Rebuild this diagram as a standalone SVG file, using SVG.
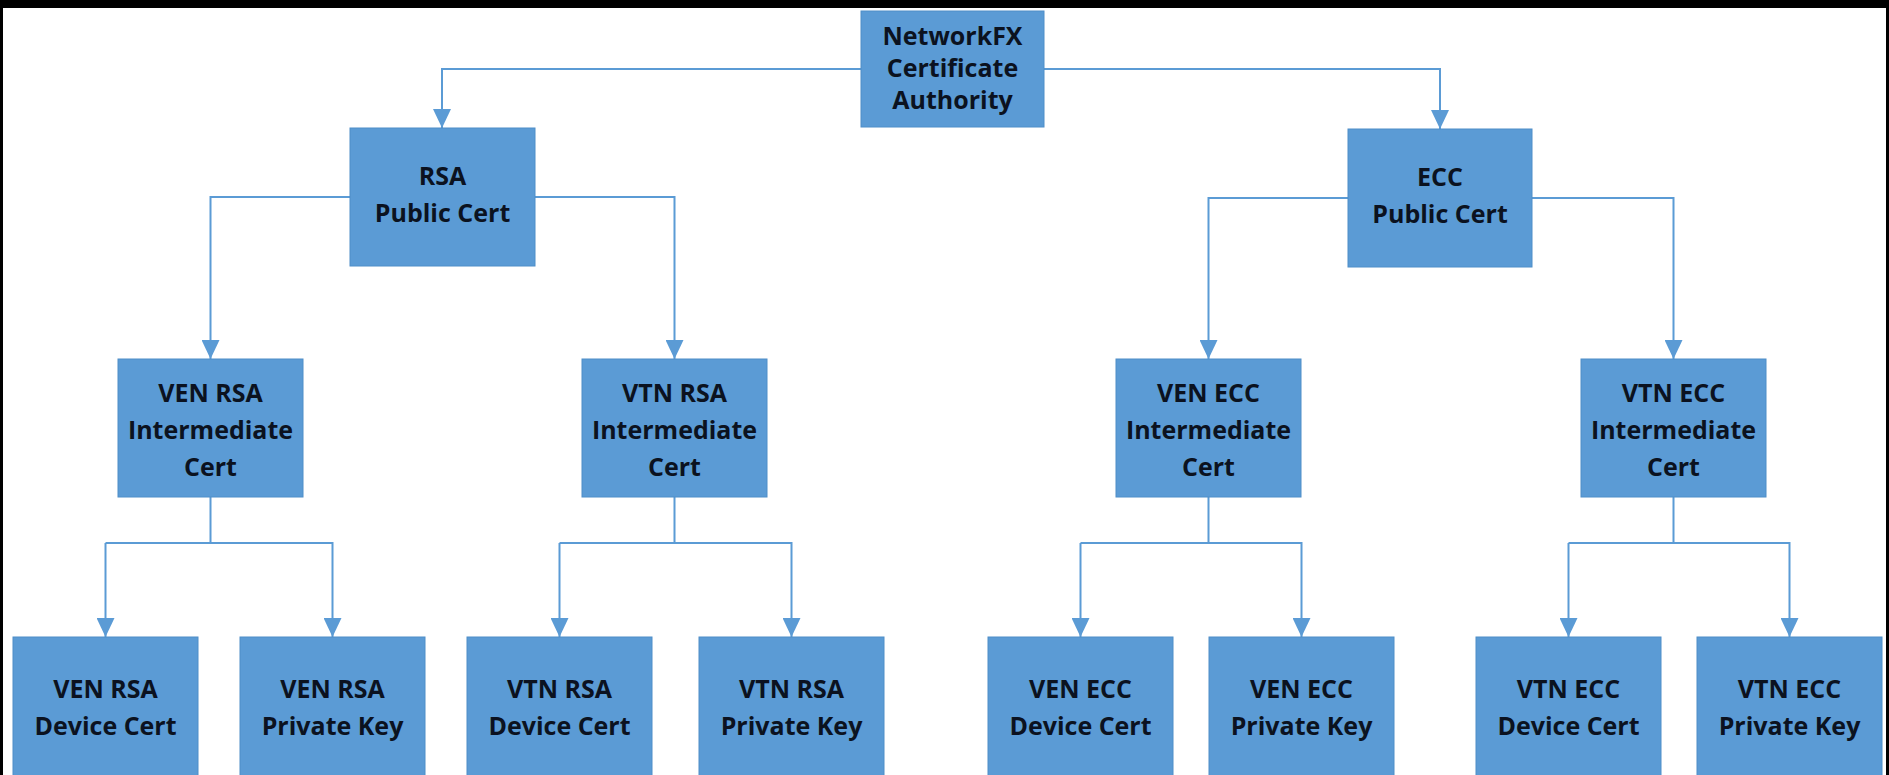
<svg xmlns="http://www.w3.org/2000/svg" width="1889" height="775" viewBox="0 0 1889 775">
<style>
  .box { fill: #5b9bd5; stroke: #4f8ec8; stroke-width: 1; }
  .lbl { font-family: "Open Sans", "Noto Sans", "Liberation Sans", sans-serif; font-weight: 700; font-size: 25px; fill: #0b1220; text-anchor: middle; }
  .conn { fill: none; stroke: #5b9bd5; stroke-width: 2; }
  .arrow { marker-end: url(#arrd); }
</style>
<defs>
  <marker id="arrd" markerUnits="userSpaceOnUse" markerWidth="18" markerHeight="19" viewBox="0 0 18 19" refX="9" refY="19" orient="0">
    <path d="M0,0 L18,0 L9,19 Z" fill="#5b9bd5"/>
  </marker>
</defs>
<rect x="0" y="0" width="1889" height="775" fill="#ffffff"/>
<rect x="0" y="0" width="1889" height="8" fill="#000"/>
<rect x="0" y="0" width="3" height="775" fill="#000"/>
<rect x="1886" y="0" width="3" height="775" fill="#000"/>

<g id="connectors">
  <path class="conn arrow" d="M861,69 H442 V128"/>
  <path class="conn arrow" d="M1044,69 H1440 V129"/>
  <path class="conn arrow" d="M350,197 H210.5 V359"/>
  <path class="conn arrow" d="M535,197 H674.5 V359"/>
  <path class="conn arrow" d="M1348,198 H1208.5 V359"/>
  <path class="conn arrow" d="M1532,198 H1673.5 V359"/>

  <path class="conn" d="M210.5,497 V543 H105.5"/>
  <path class="conn arrow" d="M105.5,543 V637"/>
  <path class="conn arrow" d="M210.5,543 H332.5 V637"/>

  <path class="conn" d="M674.5,497 V543 H559.5"/>
  <path class="conn arrow" d="M559.5,543 V637"/>
  <path class="conn arrow" d="M674.5,543 H791.5 V637"/>

  <path class="conn" d="M1208.5,497 V543 H1080.5"/>
  <path class="conn arrow" d="M1080.5,543 V637"/>
  <path class="conn arrow" d="M1208.5,543 H1301.5 V637"/>

  <path class="conn" d="M1673.5,497 V543 H1568.5"/>
  <path class="conn arrow" d="M1568.5,543 V637"/>
  <path class="conn arrow" d="M1673.5,543 H1789.5 V637"/>
</g>

<g id="root">
  <rect class="box" x="861" y="11" width="183" height="116"/>
  <text class="lbl" x="952.5" y="45">NetworkFX</text>
  <text class="lbl" x="952.5" y="77">Certificate</text>
  <text class="lbl" x="952.5" y="109">Authority</text>
</g>
<g id="rsa-public">
  <rect class="box" x="350" y="128" width="185" height="138"/>
  <text class="lbl" x="442.5" y="185">RSA</text>
  <text class="lbl" x="442.5" y="222">Public Cert</text>
</g>
<g id="ecc-public">
  <rect class="box" x="1348" y="129" width="184" height="138"/>
  <text class="lbl" x="1440" y="186">ECC</text>
  <text class="lbl" x="1440" y="223">Public Cert</text>
</g>

<g id="ven-rsa-int">
  <rect class="box" x="118" y="359" width="185" height="138"/>
  <text class="lbl" x="210.5" y="402">VEN RSA</text>
  <text class="lbl" x="210.5" y="439">Intermediate</text>
  <text class="lbl" x="210.5" y="476">Cert</text>
</g>
<g id="vtn-rsa-int">
  <rect class="box" x="582" y="359" width="185" height="138"/>
  <text class="lbl" x="674.5" y="402">VTN RSA</text>
  <text class="lbl" x="674.5" y="439">Intermediate</text>
  <text class="lbl" x="674.5" y="476">Cert</text>
</g>
<g id="ven-ecc-int">
  <rect class="box" x="1116" y="359" width="185" height="138"/>
  <text class="lbl" x="1208.5" y="402">VEN ECC</text>
  <text class="lbl" x="1208.5" y="439">Intermediate</text>
  <text class="lbl" x="1208.5" y="476">Cert</text>
</g>
<g id="vtn-ecc-int">
  <rect class="box" x="1581" y="359" width="185" height="138"/>
  <text class="lbl" x="1673.5" y="402">VTN ECC</text>
  <text class="lbl" x="1673.5" y="439">Intermediate</text>
  <text class="lbl" x="1673.5" y="476">Cert</text>
</g>

<g id="ven-rsa-device">
  <rect class="box" x="13" y="637" width="185" height="150"/>
  <text class="lbl" x="105.5" y="698">VEN RSA</text>
  <text class="lbl" x="105.5" y="735">Device Cert</text>
</g>
<g id="ven-rsa-key">
  <rect class="box" x="240" y="637" width="185" height="150"/>
  <text class="lbl" x="332.5" y="698">VEN RSA</text>
  <text class="lbl" x="332.5" y="735">Private Key</text>
</g>
<g id="vtn-rsa-device">
  <rect class="box" x="467" y="637" width="185" height="150"/>
  <text class="lbl" x="559.5" y="698">VTN RSA</text>
  <text class="lbl" x="559.5" y="735">Device Cert</text>
</g>
<g id="vtn-rsa-key">
  <rect class="box" x="699" y="637" width="185" height="150"/>
  <text class="lbl" x="791.5" y="698">VTN RSA</text>
  <text class="lbl" x="791.5" y="735">Private Key</text>
</g>
<g id="ven-ecc-device">
  <rect class="box" x="988" y="637" width="185" height="150"/>
  <text class="lbl" x="1080.5" y="698">VEN ECC</text>
  <text class="lbl" x="1080.5" y="735">Device Cert</text>
</g>
<g id="ven-ecc-key">
  <rect class="box" x="1209" y="637" width="185" height="150"/>
  <text class="lbl" x="1301.5" y="698">VEN ECC</text>
  <text class="lbl" x="1301.5" y="735">Private Key</text>
</g>
<g id="vtn-ecc-device">
  <rect class="box" x="1476" y="637" width="185" height="150"/>
  <text class="lbl" x="1568.5" y="698">VTN ECC</text>
  <text class="lbl" x="1568.5" y="735">Device Cert</text>
</g>
<g id="vtn-ecc-key">
  <rect class="box" x="1697" y="637" width="185" height="150"/>
  <text class="lbl" x="1789.5" y="698">VTN ECC</text>
  <text class="lbl" x="1789.5" y="735">Private Key</text>
</g>
</svg>
